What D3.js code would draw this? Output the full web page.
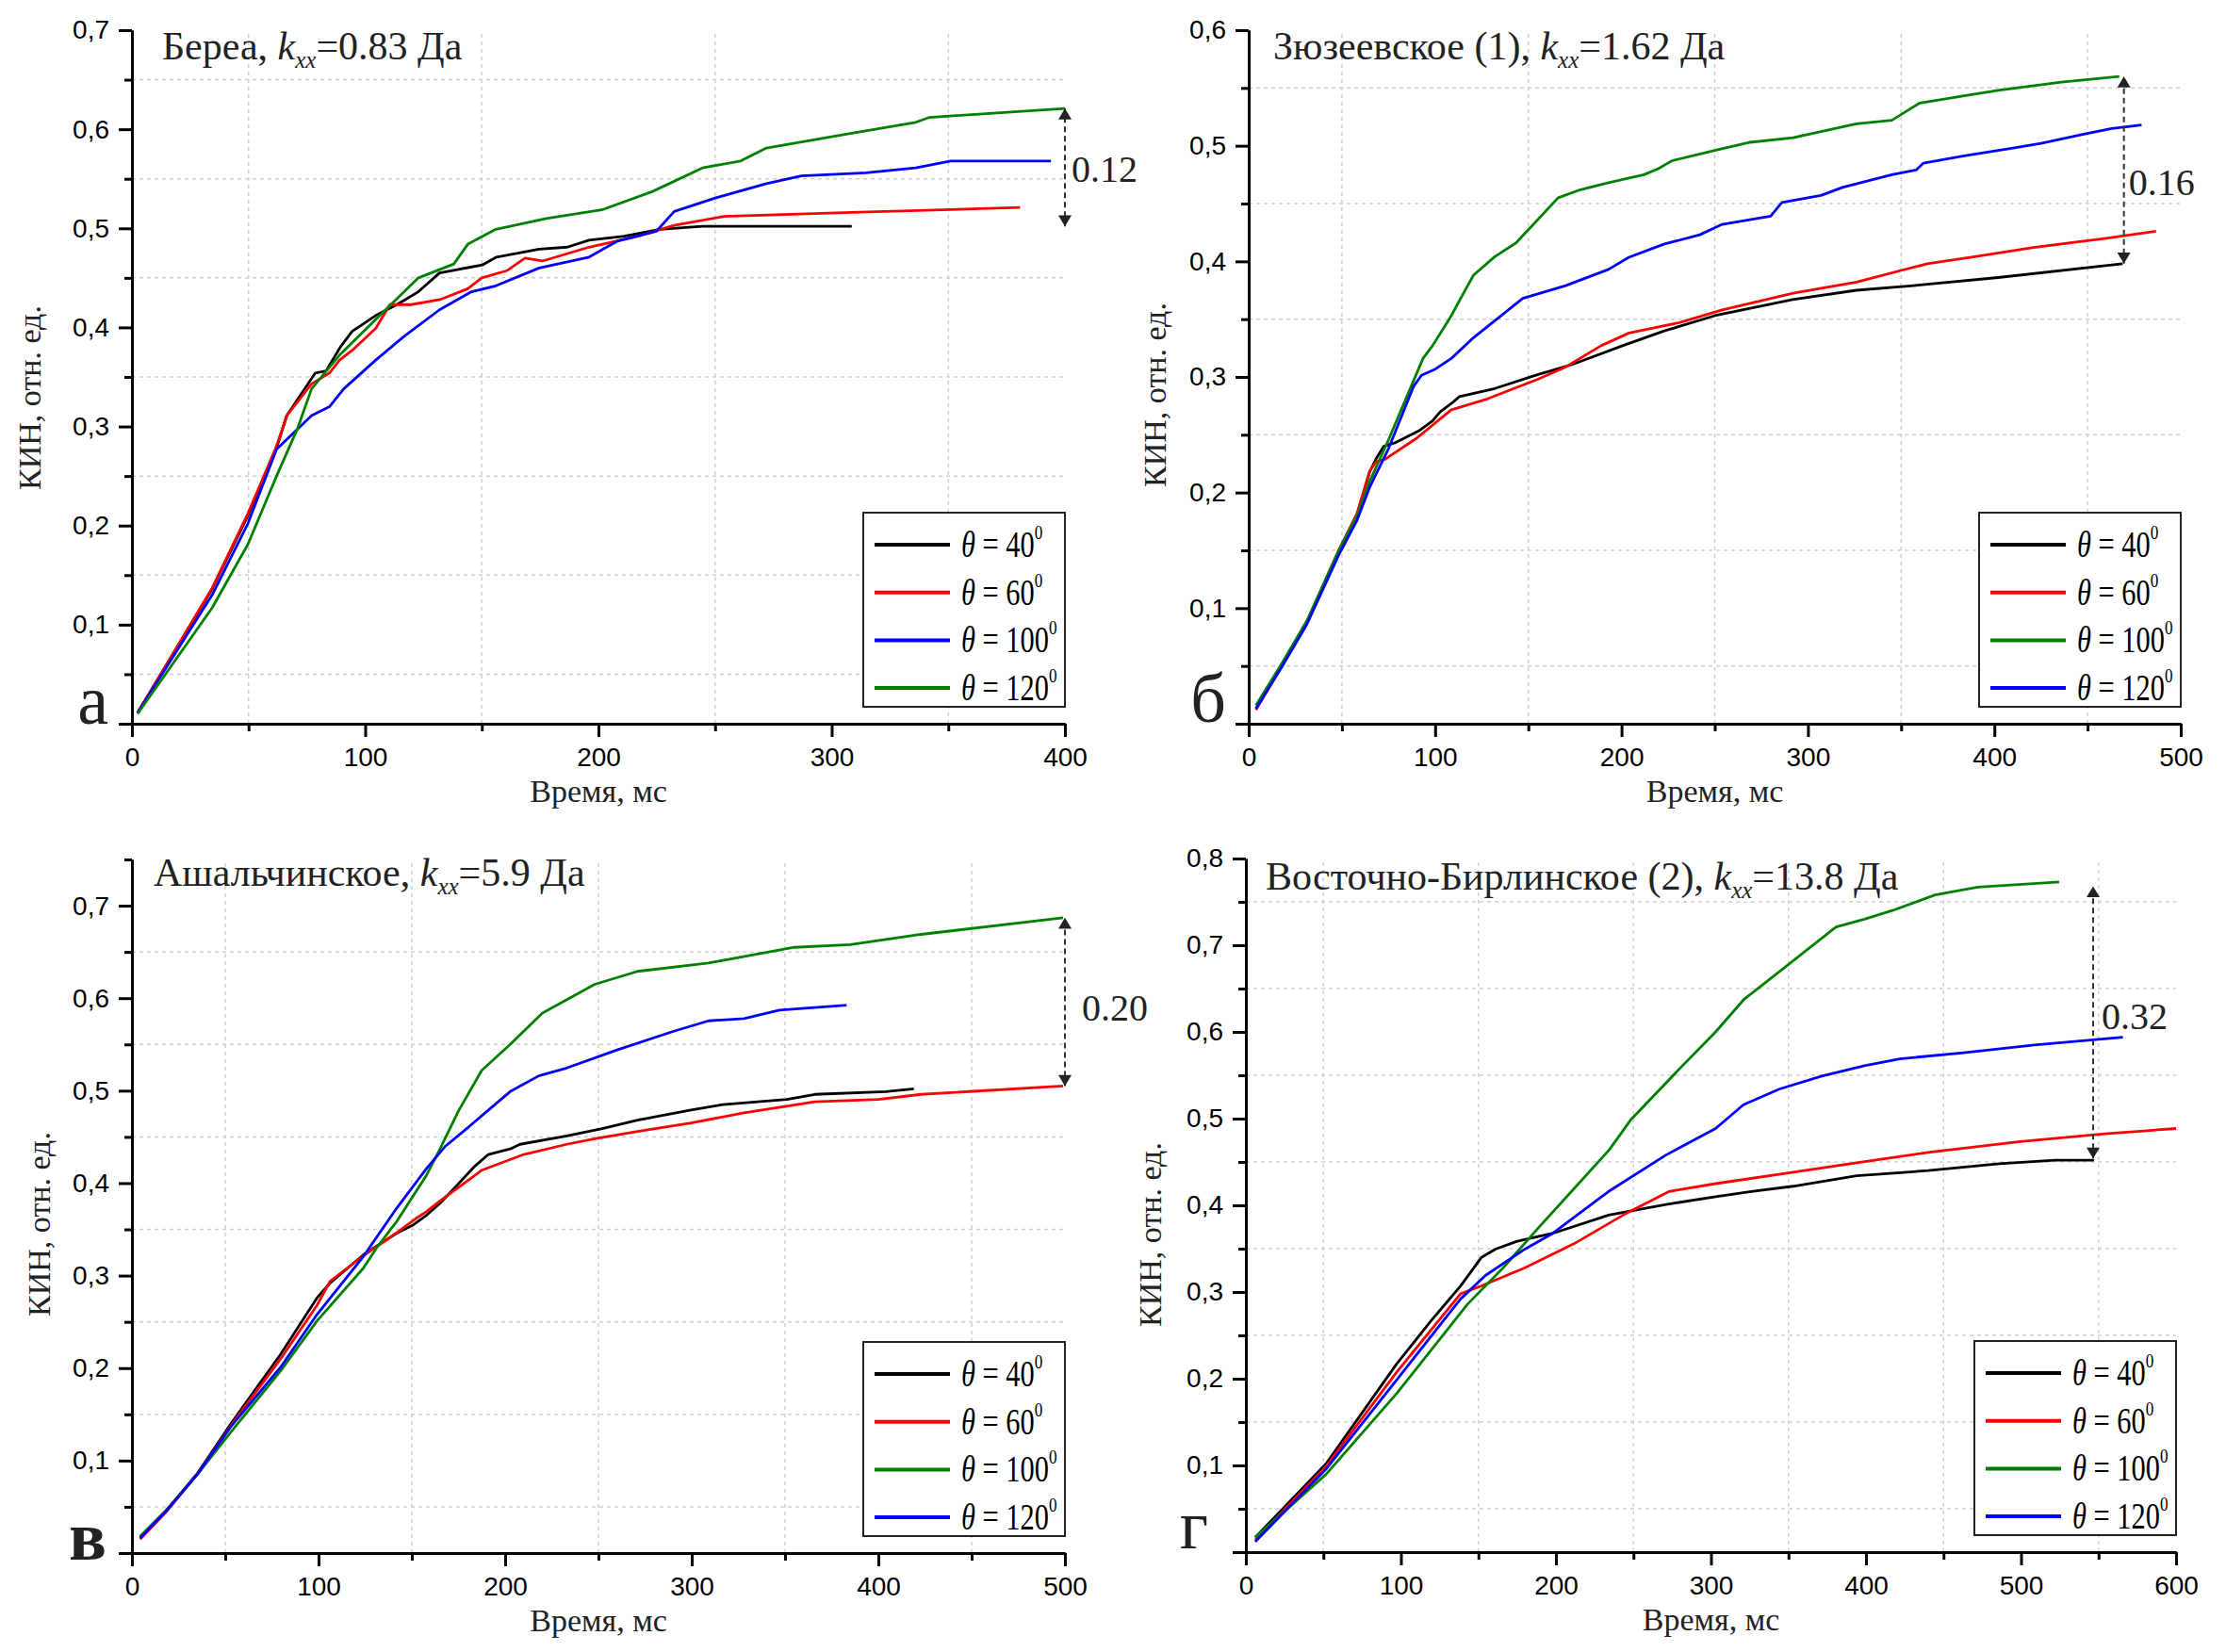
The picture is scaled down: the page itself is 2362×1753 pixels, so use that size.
<!DOCTYPE html>
<html>
<head>
<meta charset="utf-8">
<script src="https://cdn.jsdelivr.net/npm/d3@7"></script>
<style>
  body { margin: 0; background: #fff; }
  svg { display: block; }
  .tick text { font-family: "Liberation Sans", Arial, sans-serif; font-size: 28px; fill: #000; }
  .serif { font-family: "Liberation Serif", "Times New Roman", serif; fill: #222; }
</style>
</head>
<body>
<svg id="chart" width="2362" height="1753"></svg>
<script>
// ---- data (time, ms ; oil recovery factor) ----
// Береа
var bereaT40 = [[2.4,0.011],[34.4,0.136],[49.7,0.210],[61.8,0.277],[66.4,0.311],[78.6,0.354],[83.2,0.356],[89.3,0.380],[94.4,0.396],[104.5,0.412],[113.6,0.423],[122.8,0.436],[131.9,0.455],[150.2,0.463],[156.3,0.471],[174.6,0.479],[186.7,0.481],[195.9,0.488],[211.1,0.492],[226.4,0.499],[244.6,0.502],[308.6,0.502]];
var bereaT60 = [[2.4,0.011],[34.4,0.137],[49.7,0.212],[61.8,0.279],[66.4,0.311],[77,0.343],[84.7,0.354],[89,0.367],[95,0.378],[104.5,0.399],[110.6,0.423],[119.7,0.423],[132,0.428],[144,0.439],[150,0.45],[161,0.4575],[168.5,0.47],[176,0.467],[196,0.481],[217,0.492],[232.5,0.503],[253.8,0.512],[308.6,0.516],[380.8,0.521]];
var bereaT100 = [[2.4,0.011],[34.4,0.130],[49.7,0.202],[62,0.277],[77,0.311],[84.7,0.32],[90.8,0.338],[104.5,0.367],[116.7,0.391],[132,0.418],[145.6,0.436],[156,0.442],[174.6,0.46],[196,0.471],[208,0.487],[224.8,0.497],[232.5,0.517],[250.7,0.531],[272,0.545],[287,0.553],[314.7,0.556],[336,0.561],[351,0.568],[394,0.568]];
var bereaT120 = [[2.4,0.010],[34.4,0.117],[49.7,0.181],[62,0.25],[71,0.298],[77,0.338],[89,0.372],[107.5,0.415],[122.8,0.45],[138,0.464],[144,0.484],[156,0.499],[177.6,0.51],[202,0.519],[223,0.537],[244.6,0.561],[261,0.568],[272,0.581],[308.6,0.596],[336,0.607],[342,0.612],[400,0.621]];

// Зюзеевское (1)
var zyuzT40 = [[3.9,0.013],[17.7,0.05],[31.2,0.088],[48,0.148],[58.1,0.18],[64.9,0.218],[68.3,0.229],[72.4,0.240],[78.4,0.243],[91.9,0.254],[98.6,0.262],[102.8,0.270],[108.7,0.277],[113,0.283],[132,0.290],[154.9,0.302],[173.9,0.311],[200.5,0.327],[223.3,0.340],[250,0.353],[291.8,0.367],[326,0.375],[356.5,0.379],[402,0.386],[468.8,0.398]];
var zyuzT60 = [[3.9,0.012],[17.7,0.05],[31.2,0.088],[48,0.149],[58.1,0.182],[64.9,0.2185],[68.3,0.2266],[73.3,0.229],[90.1,0.247],[100.3,0.2606],[108.7,0.2715],[128,0.281],[155,0.298],[170,0.3085],[189,0.327],[204,0.338],[231,0.347],[254,0.358],[292,0.3725],[326,0.382],[364,0.398],[387,0.4035],[421,0.412],[460,0.420],[486.7,0.426]];
var zyuzT100 = [[3.9,0.016],[17.7,0.052],[31.2,0.089],[48,0.149],[58.1,0.18],[65,0.21],[75,0.2456],[93.5,0.316],[98.6,0.327],[108.7,0.353],[113,0.366],[120.6,0.388],[132,0.404],[143.4,0.416],[155,0.436],[166,0.455],[178,0.462],[193,0.468],[212,0.475],[219.5,0.48],[227,0.487],[250,0.496],[269,0.503],[292,0.507],[326,0.519],[345,0.522],[360,0.537],[387,0.544],[402,0.548],[436,0.555],[467,0.56]];
var zyuzT120 = [[3.9,0.013],[17.7,0.049],[31.2,0.086],[48,0.145],[58.1,0.176],[65,0.205],[75,0.238],[88.5,0.292],[92.7,0.3014],[100.3,0.307],[108.7,0.316],[120.6,0.334],[147,0.368],[170,0.379],[193,0.393],[204,0.4035],[223,0.415],[242,0.423],[254,0.432],[280,0.439],[286,0.451],[307,0.457],[318.5,0.464],[345,0.475],[358,0.479],[362,0.485],[383,0.491],[410,0.498],[425,0.502],[448,0.51],[463,0.515],[479,0.518]];

// Ашальчинское
var ashT40 = [[4.4,0.017],[17.7,0.044],[35.4,0.087],[53.1,0.140],[79.7,0.215],[99.2,0.276],[106.2,0.292],[124,0.3225],[141.7,0.3457],[150.6,0.3547],[157.7,0.365],[165,0.378],[172,0.393],[183.6,0.418],[191,0.431],[202.7,0.437],[208,0.442],[233,0.451],[252,0.459],[271,0.468],[299.6,0.479],[316.7,0.485],[351,0.4905],[366,0.496],[404,0.499],[419,0.502]];
var ashT60 = [[4.4,0.015],[17.7,0.043],[35.4,0.086],[53.1,0.138],[79.7,0.21],[99.2,0.268],[106.2,0.294],[124,0.3215],[141.7,0.346],[152.3,0.362],[157.7,0.369],[164.6,0.38],[187.5,0.414],[210,0.431],[233,0.442],[248,0.448],[271,0.456],[299.6,0.465],[328,0.476],[366,0.488],[400,0.4905],[423,0.496],[499,0.505]];
var ashT100 = [[4.4,0.018],[17.7,0.045],[35.4,0.086],[53.1,0.131],[79.7,0.197],[99.2,0.251],[124,0.308],[131.1,0.33],[141.7,0.358],[157.7,0.408],[164.6,0.435],[175,0.478],[187.5,0.522],[202.7,0.55],[220,0.584],[248,0.615],[271,0.629],[309,0.638],[355,0.655],[385,0.658],[423,0.669],[499,0.687]];
var ashT120 = [[4.4,0.016],[17.7,0.044],[35.4,0.086],[53.1,0.137],[79.7,0.201],[99.2,0.258],[124,0.3206],[141.7,0.3724],[157.7,0.4154],[168,0.44],[180,0.46],[202.7,0.499],[218,0.516],[233,0.5245],[260,0.544],[290,0.564],[309,0.5755],[328,0.578],[347,0.587],[383,0.5925]];

// Восточно-Бирлинское (2)
var vbT40 = [[6,0.017],[51.6,0.1016],[97,0.2165],[120,0.268],[138.5,0.307],[152,0.34],[161,0.3495],[175,0.3586],[198,0.3677],[234,0.3888],[271,0.401],[303,0.41],[326,0.416],[353,0.422],[394,0.434],[440,0.44],[486,0.448],[522,0.452],[547,0.452]];
var vbT60 = [[6,0.014],[51.6,0.0986],[97,0.207],[138.5,0.298],[152,0.307],[180,0.328],[211.6,0.3556],[243.6,0.389],[273,0.416],[303,0.425],[349,0.437],[394,0.449],[440,0.461],[499.5,0.4735],[554,0.4825],[600,0.4886]];
var vbT100 = [[6,0.017],[51.6,0.0895],[97.3,0.183],[143,0.286],[166,0.328],[188.7,0.374],[207,0.41],[234.4,0.464],[248,0.498],[280,0.558],[303,0.600],[321,0.637],[348.7,0.676],[380.7,0.721],[399,0.730],[417,0.740],[444.6,0.758],[472,0.767],[524.6,0.773]];
var vbT120 = [[6,0.012],[51.6,0.0955],[97,0.198],[138.5,0.292],[154.5,0.319],[180,0.3495],[198,0.3677],[234,0.416],[271,0.458],[303,0.4886],[321,0.516],[344,0.534],[371.5,0.549],[399,0.561],[421.8,0.569],[463,0.576],[508.6,0.585],[565.7,0.594]];

var titleNames = ["Береа, ", "Зюзеевское (1), ", "Ашальчинское, ", "Восточно-Бирлинское (2), "];
var titleValues = ["=0.83 Да", "=1.62 Да", "=5.9 Да", "=13.8 Да"];
var panelLetters = ["а", "б", "в", "г"];
var xMaxes = [400, 500, 500, 600];
var yMaxes = [0.7, 0.6, 0.75, 0.8];
var angles = ["40", "60", "100", "120"];
var seriesColors = ["#000000", "#ff0000", "#0000ff", "#008000"];
// per panel: order of legend entries / data, and color index
var panelSeries = [
  [bereaT40, bereaT60, bereaT100, bereaT120],
  [zyuzT40, zyuzT60, zyuzT100, zyuzT120],
  [ashT40, ashT60, ashT100, ashT120],
  [vbT40, vbT60, vbT100, vbT120]
];
var panelColors = [[0, 1, 2, 3], [0, 1, 3, 2], [0, 1, 3, 2], [0, 1, 3, 2]];
// spread arrows: x, top, bottom, label position
var spreadX = [400, 469.5, 500, 546.5];
var spreadTop = [0.621, 0.560, 0.687, 0.768];
var spreadBottom = [0.502, 0.398, 0.505, 0.454];
var spreadLabels = ["0.12", "0.16", "0.20", "0.32"];
var spreadLabelY = [0.547, 0.457, 0.576, 0.603];

// ---- layout (pixels) ----
var layout = [
  { left: 140, right: 1130, top: 32, bottom: 768, titleX: 172, titleY: 63, yLabX: 43, yLabY: 422, letterX: 115, letterY: 768, letterBold: false, spreadDx: 7 },
  { left: 1325, right: 2314, top: 32, bottom: 768, titleX: 1351, titleY: 63, yLabX: 1237, yLabY: 419, letterX: 1301, letterY: 766, letterBold: false, spreadDx: 5 },
  { left: 140, right: 1130, top: 912, bottom: 1648, titleX: 163, titleY: 940, yLabX: 53, yLabY: 1299, letterX: 113, letterY: 1655, letterBold: true, spreadDx: 18 },
  { left: 1322, right: 2309, top: 911, bottom: 1647, titleX: 1343, titleY: 944, yLabX: 1232, yLabY: 1310, letterX: 1282, letterY: 1643, letterBold: false, spreadDx: 9 }
];

var svg = d3.select("#chart");

var defs = svg.append("defs");
defs.append("marker")
  .attr("id", "arrowHead")
  .attr("viewBox", "0 0 10 12")
  .attr("refX", 10).attr("refY", 6)
  .attr("markerUnits", "userSpaceOnUse")
  .attr("markerWidth", 14).attr("markerHeight", 14)
  .attr("orient", "auto-start-reverse")
  .append("path")
  .attr("d", "M0,0L10,6L0,12Z")
  .attr("fill", "#222");

var commaFmt = function(d) { return d === 0 ? "" : d3.format(".1f")(d).replace(".", ","); };

layout.forEach(function(L, p) {
  var g = svg.append("g");
  var x = d3.scaleLinear().domain([0, xMaxes[p]]).range([L.left, L.right]);
  var y = d3.scaleLinear().domain([0, yMaxes[p]]).range([L.bottom, L.top]);

  var xMajor = d3.range(0, xMaxes[p] + 1, 100);
  var xMinor = d3.range(50, xMaxes[p], 100);
  var yMajor = d3.range(0, Math.round(yMaxes[p] * 10) + 1).map(function(i) { return i / 10; }).filter(function(v) { return v <= yMaxes[p] + 1e-9; });
  var yMinor = d3.range(0, Math.round(yMaxes[p] * 10) + 1).map(function(i) { return i / 10 + 0.05; }).filter(function(v) { return v <= yMaxes[p] + 1e-9; });

  // dashed grid at the minor positions
  g.append("g").selectAll("line.vg").data(xMinor).enter().append("line")
    .attr("x1", function(d) { return x(d); }).attr("x2", function(d) { return x(d); })
    .attr("y1", L.bottom).attr("y2", L.top)
    .attr("stroke", "#cfcfcf").attr("stroke-width", 1.5).attr("stroke-dasharray", "4,4");
  g.append("g").selectAll("line.hg").data(yMinor.filter(function(v) { return v < yMaxes[p] - 1e-9; })).enter().append("line")
    .attr("x1", L.left).attr("x2", L.right)
    .attr("y1", function(d) { return y(d); }).attr("y2", function(d) { return y(d); })
    .attr("stroke", "#cfcfcf").attr("stroke-width", 1.5).attr("stroke-dasharray", "4,4");

  // data lines
  var line = d3.line().x(function(d) { return x(d[0]); }).y(function(d) { return y(d[1]); });
  panelSeries[p].forEach(function(s, i) {
    g.append("path").datum(s)
      .attr("d", line)
      .attr("fill", "none")
      .attr("stroke", seriesColors[panelColors[p][i]])
      .attr("stroke-width", 2.8)
      .attr("stroke-linejoin", "round");
  });

  // axes: minor then major
  g.append("g").attr("transform", "translate(0," + L.bottom + ")")
    .call(d3.axisBottom(x).tickValues(xMinor).tickSize(8).tickSizeOuter(0).tickFormat(""));
  g.append("g").attr("transform", "translate(0," + L.bottom + ")")
    .call(d3.axisBottom(x).tickValues(xMajor).tickSize(14).tickSizeOuter(0).tickPadding(11).tickFormat(d3.format("d")));
  g.append("g").attr("transform", "translate(" + L.left + ",0)")
    .call(d3.axisLeft(y).tickValues(yMinor).tickSize(8).tickSizeOuter(0).tickFormat(""));
  g.append("g").attr("transform", "translate(" + L.left + ",0)")
    .call(d3.axisLeft(y).tickValues(yMajor).tickSize(14).tickSizeOuter(0).tickPadding(10).tickFormat(commaFmt));
  g.selectAll(".domain, .tick line").attr("stroke", "#000").attr("stroke-width", 3);

  // axis titles
  g.append("text").attr("class", "serif")
    .attr("x", (L.left + L.right) / 2).attr("y", L.bottom + 83)
    .attr("text-anchor", "middle").attr("font-size", 34)
    .text("Время, мс");
  g.append("text").attr("class", "serif")
    .attr("transform", "translate(" + L.yLabX + "," + L.yLabY + ") rotate(-90)")
    .attr("text-anchor", "middle").attr("font-size", 34)
    .text("КИН, отн. ед.");

  // panel title
  var t = g.append("text").attr("class", "serif")
    .attr("x", L.titleX).attr("y", L.titleY).attr("font-size", 42);
  t.append("tspan").text(titleNames[p]);
  t.append("tspan").attr("font-style", "italic").text("k");
  t.append("tspan").attr("font-style", "italic").attr("font-size", 25).attr("dy", 9).text("xx");
  t.append("tspan").attr("dy", -9).text(titleValues[p]);

  // corner letter
  g.append("text").attr("class", "serif")
    .attr("x", L.letterX).attr("y", L.letterY)
    .attr("text-anchor", "end").attr("font-size", 74)
    .attr("font-weight", L.letterBold ? "bold" : "normal")
    .text(panelLetters[p]);

  // spread arrow
  g.append("line")
    .attr("x1", x(spreadX[p])).attr("x2", x(spreadX[p]))
    .attr("y1", y(spreadBottom[p])).attr("y2", y(spreadTop[p]))
    .attr("stroke", "#333").attr("stroke-width", 2).attr("stroke-dasharray", "6,4")
    .attr("marker-start", "url(#arrowHead)").attr("marker-end", "url(#arrowHead)");
  g.append("text").attr("class", "serif")
    .attr("x", x(spreadX[p]) + L.spreadDx).attr("y", y(spreadLabelY[p]))
    .attr("font-size", 40)
    .text(spreadLabels[p]);

  // legend
  var boxW = 214, boxH = 206;
  var bx = L.right - boxW, by = L.bottom - 18 - boxH;
  var leg = g.append("g").attr("transform", "translate(" + bx + "," + by + ")");
  leg.append("rect").attr("width", boxW).attr("height", boxH)
    .attr("fill", "#fff").attr("stroke", "#222").attr("stroke-width", 2);
  angles.forEach(function(a, i) {
    var ry = 34 + i * 50.7;
    leg.append("line").attr("x1", 12).attr("x2", 92).attr("y1", ry).attr("y2", ry)
      .attr("stroke", seriesColors[panelColors[p][i]]).attr("stroke-width", 4);
    var lt = leg.append("text").attr("class", "serif")
      .attr("transform", "translate(104," + (ry + 13) + ") scale(0.78,1)")
      .attr("font-size", 39).style("fill", "#000");
    lt.append("tspan").attr("font-style", "italic").text("θ");
    lt.append("tspan").text(" = " + a);
    lt.append("tspan").attr("font-size", 22).attr("dy", -19).text("0");
  });
});
</script>
</body>
</html>
